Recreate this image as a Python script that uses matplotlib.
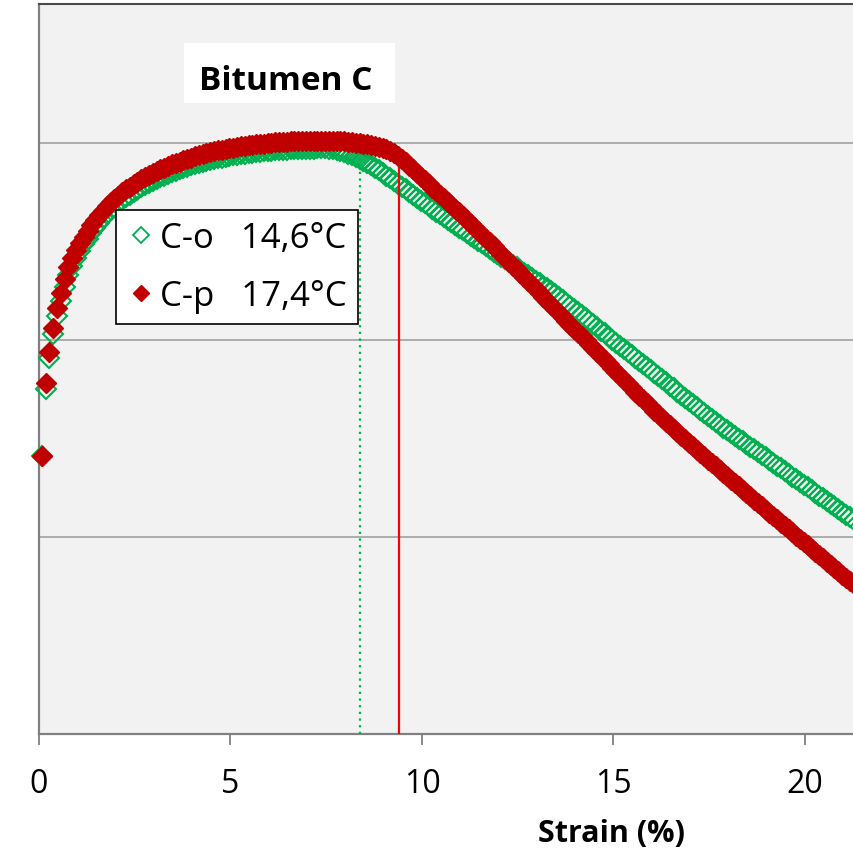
import matplotlib
matplotlib.use("Agg")
import matplotlib.pyplot as plt
from matplotlib.patches import Rectangle
from matplotlib.lines import Line2D

plt.rcParams['font.family'] = ['Open Sans', 'DejaVu Sans']

# Strain (%) sampling shared by both samples
strain = [
    0.07, 0.17, 0.27, 0.37, 0.47, 0.57, 0.67, 0.77, 0.87, 0.97,
    1.07, 1.17, 1.27, 1.37, 1.47, 1.57, 1.67, 1.77, 1.87, 1.97,
    2.07, 2.17, 2.27, 2.37, 2.47, 2.57, 2.67, 2.77, 2.87, 2.97,
    3.07, 3.17, 3.27, 3.37, 3.47, 3.57, 3.67, 3.77, 3.87, 3.97,
    4.07, 4.17, 4.27, 4.37, 4.47, 4.57, 4.67, 4.77, 4.87, 4.97,
    5.07, 5.17, 5.27, 5.37, 5.47, 5.57, 5.67, 5.77, 5.87, 5.97,
    6.07, 6.17, 6.27, 6.37, 6.47, 6.57, 6.67, 6.77, 6.87, 6.97,
    7.07, 7.17, 7.27, 7.37, 7.47, 7.57, 7.67, 7.77, 7.87, 7.97,
    8.07, 8.17, 8.27, 8.37, 8.47, 8.57, 8.67, 8.77, 8.87, 8.97,
    9.07, 9.17, 9.27, 9.37, 9.47, 9.57, 9.67, 9.77, 9.87, 9.97,
    10.07, 10.17, 10.27, 10.37, 10.47, 10.57, 10.67, 10.77, 10.87, 10.97,
    11.07, 11.17, 11.27, 11.37, 11.47, 11.57, 11.67, 11.77, 11.87, 11.97,
    12.07, 12.17, 12.27, 12.37, 12.47, 12.57, 12.67, 12.77, 12.87, 12.97,
    13.07, 13.17, 13.27, 13.37, 13.47, 13.57, 13.67, 13.77, 13.87, 13.97,
    14.07, 14.17, 14.27, 14.37, 14.47, 14.57, 14.67, 14.77, 14.87, 14.97,
    15.07, 15.17, 15.27, 15.37, 15.47, 15.57, 15.67, 15.77, 15.87, 15.97,
    16.07, 16.17, 16.27, 16.37, 16.47, 16.57, 16.67, 16.77, 16.87, 16.97,
    17.07, 17.17, 17.27, 17.37, 17.47, 17.57, 17.67, 17.77, 17.87, 17.97,
    18.07, 18.17, 18.27, 18.37, 18.47, 18.57, 18.67, 18.77, 18.87, 18.97,
    19.07, 19.17, 19.27, 19.37, 19.47, 19.57, 19.67, 19.77, 19.87, 19.97,
    20.07, 20.17, 20.27, 20.37, 20.47, 20.57, 20.67, 20.77, 20.87, 20.97,
    21.07, 21.17, 21.27,
]

# Sample C-o (14,6 °C)
stress_co = [
    1.41, 1.75, 1.91, 2.03, 2.12, 2.20, 2.27, 2.33, 2.375, 2.415,
    2.450, 2.485, 2.515, 2.543, 2.570, 2.595, 2.617, 2.638, 2.658, 2.676,
    2.693, 2.709, 2.724, 2.738, 2.751, 2.763, 2.775, 2.786, 2.797, 2.807,
    2.817, 2.826, 2.835, 2.843, 2.851, 2.859, 2.866, 2.873, 2.880, 2.886,
    2.892, 2.898, 2.903, 2.908, 2.913, 2.918, 2.922, 2.926, 2.930, 2.934,
    2.937, 2.940, 2.943, 2.946, 2.949, 2.951, 2.953, 2.955, 2.957, 2.959,
    2.961, 2.963, 2.964, 2.966, 2.967, 2.968, 2.969, 2.970, 2.971, 2.971,
    2.972, 2.972, 2.973, 2.973, 2.973, 2.971, 2.968, 2.964, 2.959, 2.953,
    2.946, 2.938, 2.930, 2.921, 2.911, 2.900, 2.888, 2.875, 2.862, 2.848,
    2.834, 2.820, 2.806, 2.792, 2.778, 2.764, 2.750, 2.736, 2.722, 2.708,
    2.694, 2.680, 2.666, 2.652, 2.638, 2.624, 2.610, 2.597, 2.583, 2.570,
    2.557, 2.543, 2.530, 2.516, 2.503, 2.490, 2.476, 2.463, 2.449, 2.436,
    2.423, 2.409, 2.396, 2.382, 2.369, 2.356, 2.342, 2.329, 2.315, 2.302,
    2.289, 2.275, 2.262, 2.247, 2.232, 2.217, 2.202, 2.187, 2.172, 2.157,
    2.141, 2.126, 2.110, 2.095, 2.079, 2.064, 2.048, 2.033, 2.017, 2.002,
    1.986, 1.971, 1.955, 1.940, 1.924, 1.909, 1.893, 1.878, 1.862, 1.847,
    1.831, 1.816, 1.800, 1.785, 1.769, 1.754, 1.738, 1.723, 1.707, 1.692,
    1.676, 1.661, 1.645, 1.630, 1.614, 1.599, 1.583, 1.569, 1.555, 1.542,
    1.528, 1.514, 1.500, 1.486, 1.473, 1.459, 1.445, 1.431, 1.417, 1.404,
    1.390, 1.376, 1.362, 1.348, 1.335, 1.321, 1.307, 1.293, 1.279, 1.266,
    1.252, 1.238, 1.224, 1.210, 1.197, 1.183, 1.169, 1.155, 1.141, 1.128,
    1.114, 1.100, 1.086,
]

# Sample C-p (17,4 °C)
stress_cp = [
    1.41, 1.78, 1.94, 2.06, 2.16, 2.24, 2.31, 2.37, 2.415, 2.455,
    2.490, 2.525, 2.555, 2.583, 2.610, 2.635, 2.657, 2.678, 2.698, 2.716,
    2.733, 2.749, 2.764, 2.778, 2.791, 2.803, 2.815, 2.826, 2.837, 2.847,
    2.857, 2.866, 2.875, 2.883, 2.891, 2.899, 2.906, 2.913, 2.920, 2.926,
    2.932, 2.938, 2.943, 2.948, 2.953, 2.958, 2.962, 2.966, 2.970, 2.974,
    2.977, 2.980, 2.983, 2.986, 2.989, 2.991, 2.993, 2.995, 2.997, 2.999,
    3.001, 3.003, 3.004, 3.006, 3.007, 3.008, 3.009, 3.010, 3.011, 3.011,
    3.012, 3.012, 3.012, 3.012, 3.012, 3.011, 3.011, 3.010, 3.009, 3.008,
    3.006, 3.004, 3.002, 3.000, 2.997, 2.994, 2.990, 2.986, 2.981, 2.975,
    2.968, 2.959, 2.948, 2.935, 2.920, 2.903, 2.885, 2.866, 2.847, 2.828,
    2.810, 2.792, 2.774, 2.756, 2.738, 2.720, 2.702, 2.684, 2.666, 2.648,
    2.629, 2.610, 2.591, 2.572, 2.553, 2.534, 2.515, 2.496, 2.477, 2.458,
    2.438, 2.418, 2.398, 2.378, 2.358, 2.338, 2.318, 2.298, 2.278, 2.258,
    2.238, 2.218, 2.198, 2.178, 2.158, 2.138, 2.118, 2.098, 2.078, 2.058,
    2.038, 2.018, 1.998, 1.978, 1.958, 1.938, 1.918, 1.898, 1.878, 1.858,
    1.838, 1.818, 1.798, 1.778, 1.758, 1.738, 1.718, 1.698, 1.678, 1.658,
    1.640, 1.622, 1.604, 1.586, 1.568, 1.550, 1.532, 1.514, 1.496, 1.478,
    1.461, 1.444, 1.427, 1.410, 1.393, 1.376, 1.359, 1.342, 1.325, 1.308,
    1.291, 1.274, 1.257, 1.240, 1.223, 1.206, 1.189, 1.172, 1.155, 1.138,
    1.122, 1.105, 1.089, 1.072, 1.056, 1.039, 1.023, 1.006, 0.990, 0.973,
    0.957, 0.940, 0.924, 0.907, 0.891, 0.874, 0.858, 0.841, 0.825, 0.808,
    0.792, 0.775, 0.759,
]

label_co = "C-o   14,6°C"
label_cp = "C-p   17,4°C"
title_text = "Bitumen C"
xlabel_text = "Strain (%)"
x_ticks = [0, 5, 10, 15, 20]
y_grid = [1, 2, 3]

# Marker strain for each sample (vertical guides)
mark_strain_co = 8.38
mark_stress_co = 2.92
mark_strain_cp = 9.40
mark_stress_cp = 2.94

GREEN = "#00B050"
DARKRED = "#C00000"
RED = "#FF0000"

W, H = 854, 853
fig = plt.figure(figsize=(W / 100, H / 100), dpi=100)
fig.patch.set_facecolor("white")

ax = fig.add_axes([39 / W, 118 / H, 815 / W, 730 / H])
ax.set_facecolor("#F2F2F2")
ax.set_xlim(0, 815 / 38.3)
ax.set_ylim(0, 730 / 197)

ax.set_yticks(y_grid)
ax.yaxis.grid(True, color="#9A9A9A", linewidth=1.1)
ax.set_axisbelow(True)
ax.tick_params(axis="y", length=0, labelleft=False)

ax.set_xticks(x_ticks)
ax.tick_params(axis="x", direction="out", length=8, width=1.3, color="#808080",
               labelsize=23, pad=16, labelcolor="black")

ax.spines["right"].set_visible(False)
ax.spines["top"].set_color("#4a4a4a")
ax.spines["top"].set_linewidth(1.5)
ax.spines["left"].set_color("#808080")
ax.spines["left"].set_linewidth(1.6)
ax.spines["bottom"].set_color("#808080")
ax.spines["bottom"].set_linewidth(1.6)

ax.plot(strain, stress_co, linestyle="none", marker="D", markersize=10.5,
        markerfacecolor="none", markeredgecolor=GREEN, markeredgewidth=1.5,
        zorder=3, clip_on=False)
ax.plot([mark_strain_co, mark_strain_co], [0, mark_stress_co], color=GREEN,
        linestyle=(0, (1, 2)), linewidth=1.6, zorder=3.5)
ax.plot([mark_strain_cp, mark_strain_cp], [0, mark_stress_cp], color=RED,
        linewidth=1.6, zorder=3.5)
ax.plot(strain, stress_cp, linestyle="none", marker="D", markersize=10.5,
        markerfacecolor=DARKRED, markeredgecolor=DARKRED, markeredgewidth=1.0,
        zorder=4, clip_on=False)

# Legend
handles = [
    Line2D([], [], linestyle="none", marker="D", markersize=8.5,
           markerfacecolor="none", markeredgecolor=GREEN, markeredgewidth=1.3),
    Line2D([], [], linestyle="none", marker="D", markersize=8.5,
           markerfacecolor=DARKRED, markeredgecolor=DARKRED),
]
leg = ax.legend(handles, [label_co, label_cp], loc="upper left",
                bbox_to_anchor=(116 / W, 1 - 211 / H), bbox_transform=fig.transFigure,
                frameon=True, fancybox=False, framealpha=1, edgecolor="black",
                fontsize=25, borderpad=0.32, labelspacing=0.69, handlelength=0.8,
                handletextpad=0.15, borderaxespad=0)
leg.get_frame().set_linewidth(1.2)
leg.set_zorder(6)

# Title box
fig.patches.append(Rectangle((184 / W, 1 - 104 / H), 211 / W, 60 / H,
                             transform=fig.transFigure, facecolor="white",
                             edgecolor="none", zorder=5))
fig.text(286 / W, 1 - 90 / H, title_text, ha="center", va="baseline",
         fontsize=24, fontweight="bold", color="black", zorder=6)

fig.text(612 / W, 1 - 842 / H, xlabel_text, ha="center", va="baseline",
         fontsize=22, fontweight="bold", color="black")

fig.savefig("out.png", dpi=100, facecolor="white")
